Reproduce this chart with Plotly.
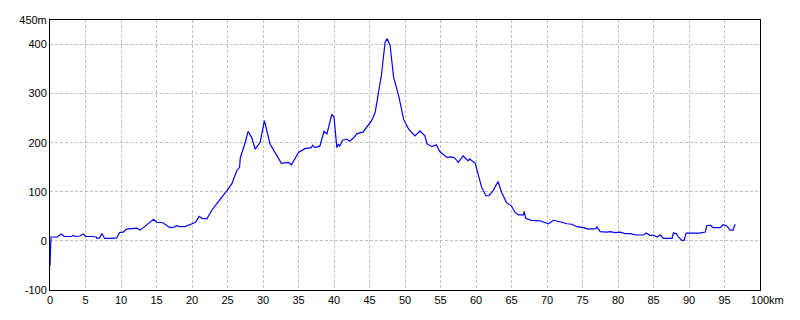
import plotly.graph_objects as go

distance_km = [0.0, 0.02, 0.1, 0.15, 0.3, 1.0, 1.6, 2.0, 3.0, 3.3, 3.6, 4.2, 4.7, 5.0, 6.0, 6.5, 6.6, 7.0, 7.3, 7.7, 8.5, 9.4, 9.8, 10.3, 10.8, 11.6, 12.2, 12.7, 13.4, 14.0, 14.6, 15.0, 15.9, 16.4, 16.9, 17.5, 17.8, 18.2, 19.0, 20.0, 20.5, 21.0, 21.4, 22.1, 22.8, 23.5, 24.2, 24.9, 25.6, 26.3, 26.7, 26.8, 27.5, 27.9, 28.4, 28.9, 29.6, 30.2, 31.0, 31.7, 32.6, 33.6, 34.0, 35.0, 35.9, 36.8, 37.0, 37.3, 38.0, 38.6, 39.0, 39.7, 40.0, 40.4, 40.6, 40.8, 41.2, 41.8, 42.2, 42.7, 43.2, 44.1, 44.8, 45.3, 45.8, 46.2, 46.7, 47.2, 47.5, 47.9, 48.4, 49.1, 49.8, 50.5, 51.4, 52.1, 52.8, 53.1, 53.8, 54.4, 54.9, 55.9, 56.6, 57.0, 57.5, 58.2, 58.9, 59.1, 59.9, 60.3, 60.8, 61.4, 61.8, 62.4, 63.1, 63.6, 64.3, 65.0, 65.5, 66.0, 66.7, 66.8, 67.0, 67.8, 69.0, 70.2, 70.9, 71.8, 72.8, 73.5, 74.2, 75.1, 75.8, 76.9, 77.0, 77.5, 78.4, 78.9, 79.6, 80.3, 81.0, 81.7, 82.6, 83.6, 84.0, 84.5, 85.0, 85.5, 86.0, 86.4, 87.2, 87.6, 87.8, 88.2, 88.5, 89.0, 89.3, 89.6, 90.6, 91.5, 92.3, 92.5, 93.0, 93.4, 94.4, 94.8, 95.3, 95.8, 96.2, 96.5]
elevation_m = [-51, -10, -6, 8, 8, 8, 14, 9, 9, 11, 9, 10, 14, 9, 9, 8, 5, 6, 15, 5, 5, 6, 17, 18, 24, 26, 26, 22, 30, 36, 44, 38, 37, 32, 27, 28, 31, 29, 29, 35, 38, 50, 46, 45, 63, 76, 88, 102, 116, 143, 150, 169, 201, 223, 211, 187, 201, 245, 197, 180, 158, 160, 155, 180, 188, 190, 195, 190, 193, 223, 218, 258, 252, 190, 197, 193, 205, 207, 203, 209, 218, 222, 235, 245, 262, 296, 340, 405, 412, 398, 333, 296, 248, 228, 214, 224, 214, 198, 192, 196, 182, 170, 171, 169, 160, 173, 163, 167, 158, 136, 109, 92, 92, 102, 121, 99, 78, 71, 58, 53, 53, 60, 46, 42, 41, 35, 42, 39, 35, 34, 29, 27, 24, 25, 29, 19, 18, 19, 17, 18, 15, 15, 12, 12, 16, 11, 12, 8, 12, 5, 4, 5, 16, 15, 8, 1, 1, 16, 16, 16, 18, 31, 32, 27, 27, 33, 31, 22, 22, 34]

x_tickvals = list(range(0, 101, 5))
x_ticktext = [str(v) for v in x_tickvals]
y_tickvals = [-100, 0, 100, 200, 300, 400, 450]
y_ticktext = ["-100", "0", "100", "200", "300", "400", "450m"]

font = dict(family="Liberation Sans, Arial, sans-serif", size=11, color="black")
grid = dict(showgrid=True, gridcolor="#c0c0c0", griddash="3px,2px", gridwidth=1,
            showline=True, linecolor="black", linewidth=1, mirror=True,
            ticks="", zeroline=False, tickfont=font)

fig = go.Figure()
fig.add_trace(go.Scatter(x=distance_km, y=elevation_m, mode="lines",
                         line=dict(color="#0000ff", width=1.2), hoverinfo="skip"))

fig.update_layout(
    width=800, height=320,
    margin=dict(l=50, r=40, t=20, b=30),
    paper_bgcolor="white", plot_bgcolor="white",
    showlegend=False, font=font,
    xaxis=dict(range=[0, 100], tickmode="array", tickvals=x_tickvals, ticktext=x_ticktext, **grid),
    yaxis=dict(range=[-100, 450], tickmode="array", tickvals=y_tickvals, ticktext=y_ticktext, **grid),
)
fig.add_annotation(x=100, y=0, xref="x", yref="paper", text="km", showarrow=False,
                   xanchor="left", yanchor="top", xshift=8, yshift=-3, font=font,
                   borderpad=0)

fig.write_html("out.html")
